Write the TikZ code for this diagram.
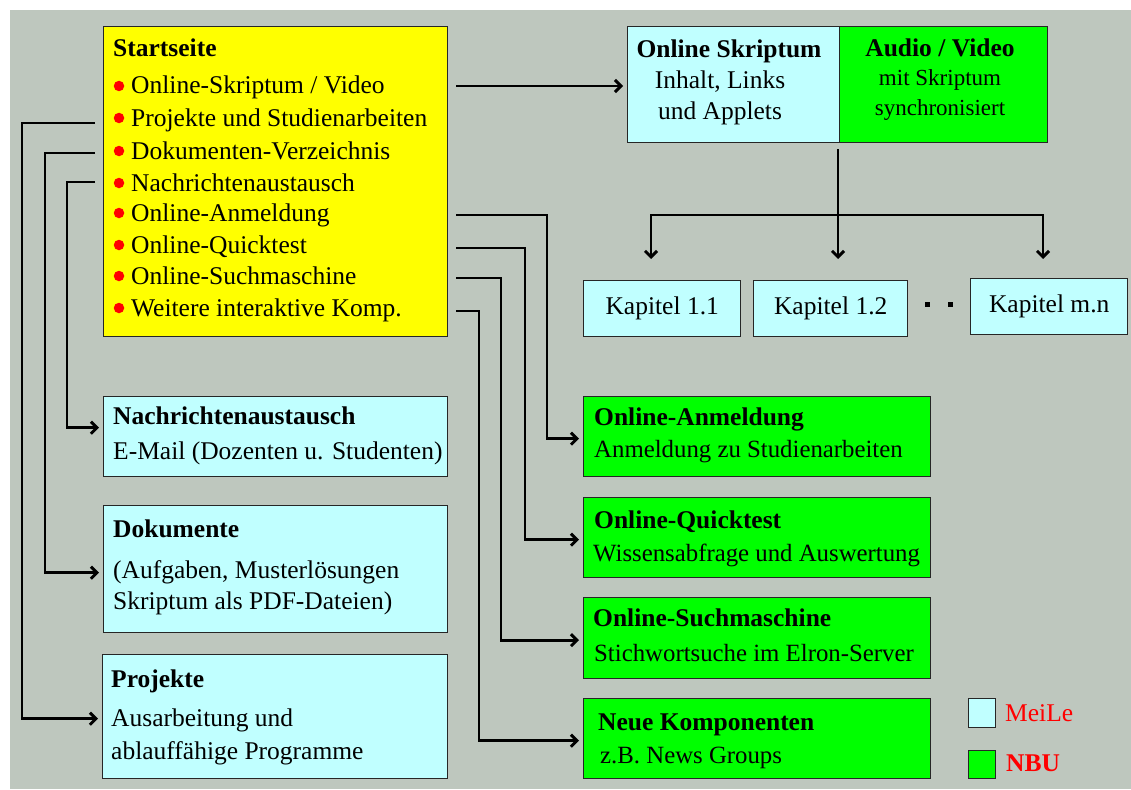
\documentclass[tikz,border=0pt]{standalone}
\usepackage{fontspec}
\setmainfont{Liberation Serif}
\usetikzlibrary{arrows.meta,calc}
\definecolor{bgc}{RGB}{190,199,190}
\definecolor{cy}{RGB}{192,255,255}
\definecolor{gr}{RGB}{0,255,0}
\definecolor{ye}{RGB}{255,255,0}
\newcommand\myfs{\fontsize{25.5pt}{30pt}\selectfont}
\newcommand\mygr{\fontsize{24.8pt}{30pt}\selectfont}
\newcommand\mysm{\fontsize{23pt}{28pt}\selectfont}
\tikzset{
  box/.style={draw=black!85, line width=1.4pt, anchor=north west, inner sep=0pt},
  txt/.style={anchor=west, inner sep=0pt, text height=20pt, text depth=4pt, font=\myfs},
  ctxt/.style={anchor=center, inner sep=0pt, text height=20pt, text depth=4pt, font=\myfs},
  bul/.style={circle, fill=red, inner sep=0pt, minimum size=10.5pt},
  line/.style={draw=black, line width=2.9pt},
  conn/.style={line, -{Straight Barb[length=6pt,width=12pt]}},
  toBox/.style={conn, shorten >=4pt},
}
\begin{document}
\begin{tikzpicture}[x=1pt,y=-1pt]
\useasboundingbox (0,0) rectangle (1131,789);
\fill[white] (0,0) rectangle (1131,789);
\fill[bgc] (10,10) rectangle (1131,789);

% Startseite
\node[box, fill=ye, minimum width=344pt, minimum height=310pt] (start) at (103,26) {};
\node[txt, font=\myfs\bfseries] (st) at (113,49) {Startseite};
\foreach \n/\y/\t in {1/86/{Online-Skriptum / Video},
                      2/118/{Projekte und Studienarbeiten},
                      3/151/{Dokumenten-Verzeichnis},
                      4/183/{Nachrichtenaustausch},
                      5/213/{Online-Anmeldung},
                      6/245/{Online-Quicktest},
                      7/276/{Online-Suchmaschine},
                      8/308/{Weitere interaktive Komp.}}{
  \node[bul] (b\n) at (119,\y) {};
  \node[txt] (i\n) at (131,\y) {\t};
}

% left boxes
\node[box, fill=cy, minimum width=344pt, minimum height=80pt] (nach) at (103,396) {};
\node[txt, font=\myfs\bfseries] (nach1) at (113,416) {Nachrichtenaustausch};
\node[txt] (nach2) at (113,451) {E-Mail (Dozenten u. Studenten)};

\node[box, fill=cy, minimum width=344pt, minimum height=127pt] (dok) at (103,505) {};
\node[txt, font=\myfs\bfseries] (dok1) at (113,529) {Dokumente};
\node[txt] (dok2) at (113,570) {(Aufgaben, Musterlösungen};
\node[txt] (dok3) at (113,601) {Skriptum als PDF-Dateien)};

\node[box, fill=cy, minimum width=345pt, minimum height=124pt] (proj) at (102,654) {};
\node[txt, font=\myfs\bfseries] (proj1) at (111,679) {Projekte};
\node[txt] (proj2) at (111,718) {Ausarbeitung und};
\node[txt] (proj3) at (111,751) {ablauffähige Programme};

% green boxes
\node[box, fill=gr, minimum width=347pt, minimum height=80pt] (anm) at (583,396) {};
\node[txt, font=\myfs\bfseries] (anm1) at (594,417) {Online-Anmeldung};
\node[txt, font=\mygr] (anm2) at (594,449) {Anmeldung zu Studienarbeiten};

\node[box, fill=gr, minimum width=347pt, minimum height=80pt] (qt) at (583,497) {};
\node[txt, font=\myfs\bfseries] (qt1) at (594,520) {Online-Quicktest};
\node[txt, font=\mygr] (qt2) at (593,553) {Wissensabfrage und Auswertung};

\node[box, fill=gr, minimum width=347pt, minimum height=81pt] (such) at (583,597) {};
\node[txt, font=\myfs\bfseries] (such1) at (593,618) {Online-Suchmaschine};
\node[txt, font=\mygr] (such2) at (594,653) {Stichwortsuche im Elron-Server};

\node[box, fill=gr, minimum width=347pt, minimum height=80pt] (neu) at (583,698) {};
\node[txt, font=\myfs\bfseries] (neu1) at (598,722) {Neue Komponenten};
\node[txt, font=\mygr] (neu2) at (600,755) {z.B. News Groups};

% top right
\node[box, fill=cy, minimum width=212pt, minimum height=116pt] (osk) at (627,26) {};
\node[box, fill=gr, minimum width=208pt, minimum height=116pt] (av) at (839,26) {};
\node[ctxt, font=\myfs\bfseries] (osk1) at (729,50) {Online Skriptum};
\node[ctxt] (osk2) at (720,81) {Inhalt, Links};
\node[ctxt] (osk3) at (720,111) {und Applets};
\node[ctxt, font=\myfs\bfseries] (av1) at (940,49) {Audio / Video};
\node[ctxt, font=\mysm] (av2) at (940,78) {mit Skriptum};
\node[ctxt, font=\mysm] (av3) at (940,108) {synchronisiert};

% Kapitel
\node[box, fill=cy, minimum width=157pt, minimum height=56pt, font=\myfs] (k11) at (583,280) {Kapitel 1.1};
\node[box, fill=cy, minimum width=154pt, minimum height=56pt, font=\myfs] (k12) at (753,280) {Kapitel 1.2};
\node[box, fill=cy, minimum width=157pt, minimum height=56pt, font=\myfs] (kmn) at (970,278) {Kapitel m.n};
\fill[black] (925,302) rectangle (930,307);
\fill[black] (948,302) rectangle (953,307);

% legend
\node[box, fill=cy, minimum width=27pt, minimum height=29pt] (leg1) at (968,698) {};
\node[box, fill=gr, minimum width=27pt, minimum height=28pt] (leg2) at (968,750) {};
\node[txt, text=red] (legt1) at (1005,713) {MeiLe};
\node[txt, text=red, font=\myfs\bfseries] (legt2) at (1006,763) {NBU};

% connectors top
\draw[toBox] ($(start.east|-i1)+(8,0)$) -- (osk.west|-i1);
\coordinate (br) at (838,215);
\coordinate (a1) at (651,259);
\coordinate (a2) at (838,259);
\coordinate (a3) at (1043,259);
\draw[line] ($(br|-osk.south)+(0,6)$) -- (br);
\draw[conn] (br) -| (a1);
\draw[conn] (br) -- (a2);
\draw[conn] (br) -| (a3);

% right connectors
\draw[toBox] ($(start.east|-i5)+(8,2)$) -| ([xshift=-36pt,yshift=-2pt]anm.west) -- ([yshift=-2pt]anm.west);
\draw[toBox] ($(start.east|-i6)+(8,3)$) -| ([xshift=-58pt,yshift=-2pt]qt.west) -- ([yshift=-2pt]qt.west);
\draw[toBox] ($(start.east|-i7)+(8,2)$) -| ([xshift=-82pt,yshift=-2pt]such.west) -- ([yshift=-2pt]such.west);
\draw[toBox] ($(start.east|-i8)+(8,3)$) -| ([xshift=-104pt,yshift=-2pt]neu.west) -- ([yshift=-2pt]neu.west);

% left connectors
\draw[toBox] ($(start.west|-i2)+(-8,5)$) -| ([xshift=-80pt,yshift=-2pt]proj.west) -- ([yshift=-2pt]proj.west);
\draw[toBox] ($(start.west|-i3)+(-8,2)$) -| ([xshift=-58pt,yshift=-3.5pt]dok.west) -- ([yshift=-3.5pt]dok.west);
\draw[toBox] ($(start.west|-i4)+(-8,-1)$) -| ([xshift=-36pt,yshift=9pt]nach.west) -- ([yshift=9pt]nach.west);
\end{tikzpicture}
\end{document}
